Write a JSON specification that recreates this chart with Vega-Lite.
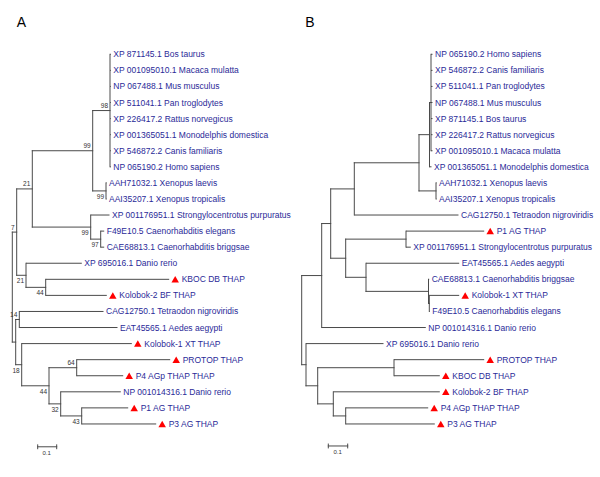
{
  "$schema": "https://vega.github.io/schema/vega-lite/v6.json",
  "width": 600,
  "height": 477,
  "autosize": {"type": "fit", "contains": "padding"},
  "padding": 0,
  "background": "white",
  "config": {"view": {"stroke": null}},
  "datasets": {
    "branches": [
      {"x":110,"x2":110,"y":0,"y2":7},
      {"x":106,"x2":106,"y":8,"y2":9},
      {"x":92.7,"x2":92.7,"y":3.5,"y2":8.5},
      {"x":100.7,"x2":100.7,"y":11,"y2":12},
      {"x":90.7,"x2":90.7,"y":10,"y2":11.5},
      {"x":32.3,"x2":32.3,"y":6,"y2":10.75},
      {"x":45.7,"x2":45.7,"y":14,"y2":15},
      {"x":26,"x2":26,"y":13,"y2":14.5},
      {"x":16.7,"x2":16.7,"y":8.375,"y2":13.75},
      {"x":19.3,"x2":19.3,"y":16,"y2":17},
      {"x":81.7,"x2":81.7,"y":22,"y2":23},
      {"x":60.7,"x2":60.7,"y":21,"y2":22.5},
      {"x":76.7,"x2":76.7,"y":19,"y2":20},
      {"x":49,"x2":49,"y":19.5,"y2":21.75},
      {"x":21.7,"x2":21.7,"y":18,"y2":20.625},
      {"x":15.7,"x2":15.7,"y":16.5,"y2":19.3125},
      {"x":12.3,"x2":12.3,"y":11.0625,"y2":17.906},
      {"x":92.7,"x2":110,"y":3.5,"y2":3.5},
      {"x":92.7,"x2":106,"y":8.5,"y2":8.5},
      {"x":32.3,"x2":92.7,"y":6,"y2":6},
      {"x":90.7,"x2":100.7,"y":11.5,"y2":11.5},
      {"x":32.3,"x2":90.7,"y":10.75,"y2":10.75},
      {"x":16.7,"x2":32.3,"y":8.375,"y2":8.375},
      {"x":26,"x2":45.7,"y":14.5,"y2":14.5},
      {"x":16.7,"x2":26,"y":13.75,"y2":13.75},
      {"x":12.3,"x2":16.7,"y":11.0625,"y2":11.0625},
      {"x":15.7,"x2":19.3,"y":16.5,"y2":16.5},
      {"x":60.7,"x2":81.7,"y":22.5,"y2":22.5},
      {"x":49,"x2":60.7,"y":21.75,"y2":21.75},
      {"x":49,"x2":76.7,"y":19.5,"y2":19.5},
      {"x":21.7,"x2":49,"y":20.625,"y2":20.625},
      {"x":15.7,"x2":21.7,"y":19.3125,"y2":19.3125},
      {"x":12.3,"x2":15.7,"y":17.906,"y2":17.906},
      {"x":431,"x2":431,"y":0,"y2":6},
      {"x":429.5,"x2":429.5,"y":3,"y2":7},
      {"x":436,"x2":436,"y":8,"y2":9},
      {"x":419,"x2":419,"y":5,"y2":8.5},
      {"x":354.3,"x2":354.3,"y":6.75,"y2":10},
      {"x":406,"x2":406,"y":11,"y2":12},
      {"x":429.3,"x2":429.3,"y":15,"y2":16},
      {"x":428.5,"x2":428.5,"y":14,"y2":15.5},
      {"x":366,"x2":366,"y":13,"y2":14.75},
      {"x":345.7,"x2":345.7,"y":11.5,"y2":13.875},
      {"x":330.7,"x2":330.7,"y":8.375,"y2":12.6875},
      {"x":321.7,"x2":321.7,"y":10.53,"y2":17},
      {"x":394,"x2":394,"y":19,"y2":20},
      {"x":345.7,"x2":345.7,"y":22,"y2":23},
      {"x":333.3,"x2":333.3,"y":21,"y2":22.5},
      {"x":317.7,"x2":317.7,"y":19.5,"y2":21.75},
      {"x":306,"x2":306,"y":18,"y2":20.625},
      {"x":301.7,"x2":301.7,"y":13.766,"y2":19.3125},
      {"x":429.5,"x2":431,"y":3,"y2":3},
      {"x":419,"x2":429.5,"y":5,"y2":5},
      {"x":419,"x2":436,"y":8.5,"y2":8.5},
      {"x":354.3,"x2":419,"y":6.75,"y2":6.75},
      {"x":330.7,"x2":354.3,"y":8.375,"y2":8.375},
      {"x":345.7,"x2":406,"y":11.5,"y2":11.5},
      {"x":428.5,"x2":429.3,"y":15.5,"y2":15.5},
      {"x":366,"x2":428.5,"y":14.75,"y2":14.75},
      {"x":345.7,"x2":366,"y":13.875,"y2":13.875},
      {"x":330.7,"x2":345.7,"y":12.6875,"y2":12.6875},
      {"x":321.7,"x2":330.7,"y":10.53,"y2":10.53},
      {"x":301.7,"x2":321.7,"y":13.766,"y2":13.766},
      {"x":317.7,"x2":394,"y":19.5,"y2":19.5},
      {"x":333.3,"x2":345.7,"y":22.5,"y2":22.5},
      {"x":317.7,"x2":333.3,"y":21.75,"y2":21.75},
      {"x":306,"x2":317.7,"y":20.625,"y2":20.625},
      {"x":301.7,"x2":306,"y":19.3125,"y2":19.3125},
      {"x":37.7,"x2":56.7,"y":24.42,"y2":24.42},
      {"x":37.7,"x2":37.7,"y":24.3,"y2":24.54},
      {"x":56.7,"x2":56.7,"y":24.3,"y2":24.54},
      {"x":328.3,"x2":347.7,"y":24.37,"y2":24.37},
      {"x":328.3,"x2":328.3,"y":24.25,"y2":24.49},
      {"x":347.7,"x2":347.7,"y":24.25,"y2":24.49}
    ],
    "leaves": [
      {"name":"XP 871145.1 Bos taurus","px":110,"x":110.8,"y":0,"thap":false},
      {"name":"XP 001095010.1 Macaca mulatta","px":110,"x":110.8,"y":1,"thap":false},
      {"name":"NP 067488.1 Mus musculus","px":110,"x":110.8,"y":2,"thap":false},
      {"name":"XP 511041.1 Pan troglodytes","px":110,"x":110.8,"y":3,"thap":false},
      {"name":"XP 226417.2 Rattus norvegicus","px":110,"x":110.8,"y":4,"thap":false},
      {"name":"XP 001365051.1 Monodelphis domestica","px":110,"x":110.8,"y":5,"thap":false},
      {"name":"XP 546872.2 Canis familiaris","px":110,"x":110.8,"y":6,"thap":false},
      {"name":"NP 065190.2 Homo sapiens","px":110,"x":110.8,"y":7,"thap":false},
      {"name":"AAH71032.1 Xenopus laevis","px":106,"x":106.5,"y":8,"thap":false},
      {"name":"AAI35207.1 Xenopus tropicalis","px":106,"x":106.5,"y":9,"thap":false},
      {"name":"XP 001176951.1 Strongylocentrotus purpuratus","px":90.7,"x":109.5,"y":10,"thap":false},
      {"name":"F49E10.5 Caenorhabditis elegans","px":100.7,"x":104.2,"y":11,"thap":false},
      {"name":"CAE68813.1 Caenorhabditis briggsae","px":100.7,"x":104.2,"y":12,"thap":false},
      {"name":"XP 695016.1 Danio rerio","px":26,"x":81.8,"y":13,"thap":false},
      {"name":"KBOC DB THAP","px":45.7,"x":169.2,"y":14,"thap":true},
      {"name":"Kolobok-2 BF THAP","px":45.7,"x":106.8,"y":15,"thap":true},
      {"name":"CAG12750.1 Tetraodon nigroviridis","px":19.3,"x":103.5,"y":16,"thap":false},
      {"name":"EAT45565.1 Aedes aegypti","px":19.3,"x":117.5,"y":17,"thap":false},
      {"name":"Kolobok-1 XT THAP","px":21.7,"x":131.8,"y":18,"thap":true},
      {"name":"PROTOP THAP","px":76.7,"x":170.2,"y":19,"thap":true},
      {"name":"P4 AGp THAP THAP","px":76.7,"x":123.2,"y":20,"thap":true},
      {"name":"NP 001014316.1 Danio rerio","px":60.7,"x":120.8,"y":21,"thap":false},
      {"name":"P1 AG THAP","px":81.7,"x":128.2,"y":22,"thap":true},
      {"name":"P3 AG THAP","px":81.7,"x":156.2,"y":23,"thap":true},
      {"name":"NP 065190.2 Homo sapiens","px":431,"x":432.5,"y":0,"thap":false},
      {"name":"XP 546872.2 Canis familiaris","px":431,"x":432.5,"y":1,"thap":false},
      {"name":"XP 511041.1 Pan troglodytes","px":431,"x":432.5,"y":2,"thap":false},
      {"name":"NP 067488.1 Mus musculus","px":431,"x":432.5,"y":3,"thap":false},
      {"name":"XP 871145.1 Bos taurus","px":431,"x":432.5,"y":4,"thap":false},
      {"name":"XP 226417.2 Rattus norvegicus","px":431,"x":432.5,"y":5,"thap":false},
      {"name":"XP 001095010.1 Macaca mulatta","px":431,"x":432.5,"y":6,"thap":false},
      {"name":"XP 001365051.1 Monodelphis domestica","px":429.5,"x":431.5,"y":7,"thap":false},
      {"name":"AAH71032.1 Xenopus laevis","px":436,"x":436.5,"y":8,"thap":false},
      {"name":"AAI35207.1 Xenopus tropicalis","px":436,"x":436.5,"y":9,"thap":false},
      {"name":"CAG12750.1 Tetraodon nigroviridis","px":354.3,"x":458.5,"y":10,"thap":false},
      {"name":"P1 AG THAP","px":406,"x":484.2,"y":11,"thap":true},
      {"name":"XP 001176951.1 Strongylocentrotus purpuratus","px":406,"x":410.8,"y":12,"thap":false},
      {"name":"EAT45565.1 Aedes aegypti","px":366,"x":459.2,"y":13,"thap":false},
      {"name":"CAE68813.1 Caenorhabditis briggsae","px":428.5,"x":429.2,"y":14,"thap":false},
      {"name":"Kolobok-1 XT THAP","px":429.3,"x":459.2,"y":15,"thap":true},
      {"name":"F49E10.5 Caenorhabditis elegans","px":429.3,"x":429.8,"y":16,"thap":false},
      {"name":"NP 001014316.1 Danio rerio","px":321.7,"x":425.8,"y":17,"thap":false},
      {"name":"XP 695016.1 Danio rerio","px":306,"x":383.5,"y":18,"thap":false},
      {"name":"PROTOP THAP","px":394,"x":484.2,"y":19,"thap":true},
      {"name":"KBOC DB THAP","px":394,"x":439.8,"y":20,"thap":true},
      {"name":"Kolobok-2 BF THAP","px":333.3,"x":439.8,"y":21,"thap":true},
      {"name":"P4 AGp THAP THAP","px":345.7,"x":428.2,"y":22,"thap":true},
      {"name":"P3 AG THAP","px":345.7,"x":434.8,"y":23,"thap":true}
    ],
    "support": [
      {"label":"98","x":110,"y":3.5,"side":"above"},
      {"label":"99","x":92.7,"y":6,"side":"above"},
      {"label":"99","x":106,"y":8.5,"side":"below"},
      {"label":"21","x":32.3,"y":8.375,"side":"above"},
      {"label":"99","x":90.7,"y":10.75,"side":"below"},
      {"label":"7","x":16.7,"y":11.0625,"side":"above"},
      {"label":"97","x":100.7,"y":11.5,"side":"below"},
      {"label":"21","x":26,"y":13.75,"side":"below"},
      {"label":"44","x":45.7,"y":14.5,"side":"below"},
      {"label":"14","x":19.3,"y":16.5,"side":"above"},
      {"label":"18","x":21.7,"y":19.3125,"side":"below"},
      {"label":"64","x":76.7,"y":19.5,"side":"above"},
      {"label":"44","x":49,"y":20.625,"side":"below"},
      {"label":"32","x":60.7,"y":21.75,"side":"below"},
      {"label":"43","x":81.7,"y":22.5,"side":"below"}
    ],
    "panels": [
      {"label":"A","x":21.5,"y":-1.95},
      {"label":"B","x":310,"y":-1.95}
    ],
    "scaletext": [
      {"label":"0.1","x":46.7,"y":24.79},
      {"label":"0.1","x":337.7,"y":24.76}
    ]
  },
  "encoding": {
    "x": {"field":"x","type":"quantitative","scale":{"domain":[0,600],"nice":false,"zero":false},"axis":null},
    "y": {"field":"y","type":"quantitative","scale":{"domain":[-3.379,26.3],"reverse":true,"nice":false,"zero":false},"axis":null}
  },
  "layer": [
    {
      "data": {"name":"branches"},
      "mark": {"type":"rule","color":"#4a4a4a","strokeWidth":1,"strokeCap":"square"},
      "encoding": {
        "x2": {"field":"x2"},
        "y2": {"field":"y2"}
      }
    },
    {
      "data": {"name":"leaves"},
      "mark": {"type":"rule","color":"#4a4a4a","strokeWidth":1},
      "encoding": {
        "x": {"field":"px","type":"quantitative","scale":{"domain":[0,600],"nice":false,"zero":false},"axis":null},
        "x2": {"field":"x"}
      }
    },
    {
      "data": {"name":"leaves"},
      "transform": [{"filter":"datum.thap"}],
      "mark": {"type":"point","shape":"triangle-up","filled":true,"size":56,"color":"#ff0000","opacity":1,"xOffset":6}
    },
    {
      "data": {"name":"leaves"},
      "transform": [{"filter":"!datum.thap"}],
      "mark": {"type":"text","align":"left","baseline":"middle","dx":2.5,"font":"Liberation Sans","fontSize":8.5,"color":"#2a2a98"},
      "encoding": {"text": {"field":"name"}}
    },
    {
      "data": {"name":"leaves"},
      "transform": [{"filter":"datum.thap"}],
      "mark": {"type":"text","align":"left","baseline":"middle","dx":12.5,"font":"Liberation Sans","fontSize":8.5,"color":"#2a2a98"},
      "encoding": {"text": {"field":"name"}}
    },
    {
      "data": {"name":"support"},
      "transform": [{"filter":"datum.side == 'above'"}],
      "mark": {"type":"text","align":"right","baseline":"middle","dx":-2,"dy":-4.5,"font":"Liberation Sans","fontSize":6.5,"color":"#333333"},
      "encoding": {"text": {"field":"label"}}
    },
    {
      "data": {"name":"support"},
      "transform": [{"filter":"datum.side == 'below'"}],
      "mark": {"type":"text","align":"right","baseline":"middle","dx":-2,"dy":6,"font":"Liberation Sans","fontSize":6.5,"color":"#333333"},
      "encoding": {"text": {"field":"label"}}
    },
    {
      "data": {"name":"panels"},
      "mark": {"type":"text","align":"center","baseline":"middle","font":"Liberation Sans","fontSize":14,"color":"#000000"},
      "encoding": {"text": {"field":"label"}}
    },
    {
      "data": {"name":"scaletext"},
      "mark": {"type":"text","align":"center","baseline":"middle","font":"Liberation Sans","fontSize":6,"color":"#333333"},
      "encoding": {"text": {"field":"label"}}
    }
  ]
}
